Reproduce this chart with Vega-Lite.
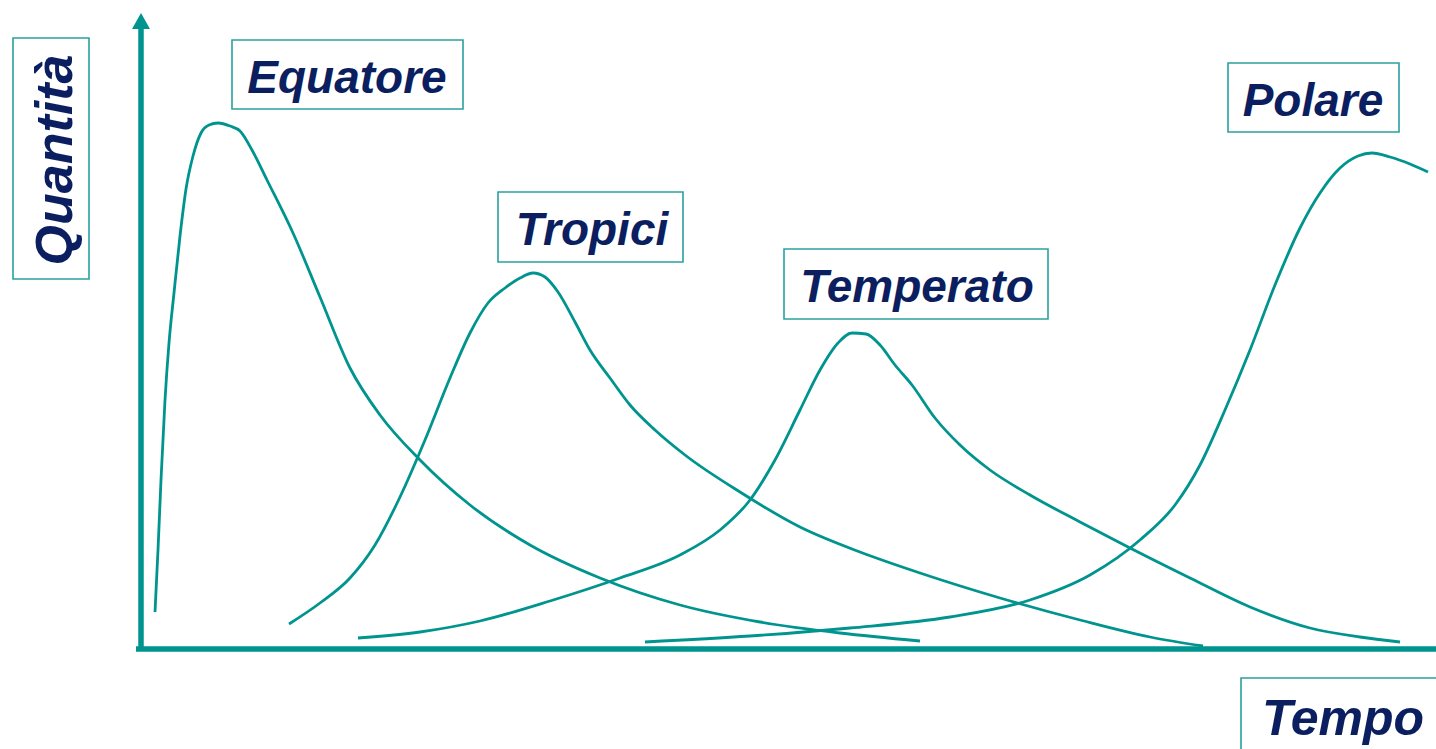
{
  "$schema": "https://vega.github.io/schema/vega-lite/v6.json",
  "width": 1436,
  "height": 749,
  "autosize": {"type": "fit", "contains": "padding"},
  "padding": 0,
  "background": "white",
  "config": {"view": {"stroke": null}},
  "encoding": {
    "x": {"field": "tempo", "type": "quantitative", "axis": null, "scale": {"domain": [-141, 1295], "nice": false, "zero": false}},
    "y": {"field": "quantita", "type": "quantitative", "axis": null, "scale": {"domain": [-100, 649], "nice": false, "zero": false}}
  },
  "layer": [
    {
      "data": {"values": [
        {"zona": "Equatore", "tempo": 14, "quantita": 37},
        {"zona": "Equatore", "tempo": 17, "quantita": 99},
        {"zona": "Equatore", "tempo": 20, "quantita": 169},
        {"zona": "Equatore", "tempo": 24, "quantita": 249},
        {"zona": "Equatore", "tempo": 28, "quantita": 306},
        {"zona": "Equatore", "tempo": 33, "quantita": 356},
        {"zona": "Equatore", "tempo": 39, "quantita": 413},
        {"zona": "Equatore", "tempo": 45, "quantita": 460},
        {"zona": "Equatore", "tempo": 52, "quantita": 493},
        {"zona": "Equatore", "tempo": 60, "quantita": 516},
        {"zona": "Equatore", "tempo": 68, "quantita": 524},
        {"zona": "Equatore", "tempo": 77, "quantita": 526},
        {"zona": "Equatore", "tempo": 89, "quantita": 523},
        {"zona": "Equatore", "tempo": 99, "quantita": 518},
        {"zona": "Equatore", "tempo": 111, "quantita": 499},
        {"zona": "Equatore", "tempo": 126, "quantita": 469},
        {"zona": "Equatore", "tempo": 152, "quantita": 416},
        {"zona": "Equatore", "tempo": 179, "quantita": 352},
        {"zona": "Equatore", "tempo": 209, "quantita": 281},
        {"zona": "Equatore", "tempo": 239, "quantita": 234},
        {"zona": "Equatore", "tempo": 279, "quantita": 189},
        {"zona": "Equatore", "tempo": 329, "quantita": 144},
        {"zona": "Equatore", "tempo": 389, "quantita": 104},
        {"zona": "Equatore", "tempo": 459, "quantita": 71},
        {"zona": "Equatore", "tempo": 539, "quantita": 44},
        {"zona": "Equatore", "tempo": 619, "quantita": 27},
        {"zona": "Equatore", "tempo": 699, "quantita": 16},
        {"zona": "Equatore", "tempo": 779, "quantita": 8},
        {"zona": "Tropici", "tempo": 148, "quantita": 25},
        {"zona": "Tropici", "tempo": 179, "quantita": 46},
        {"zona": "Tropici", "tempo": 209, "quantita": 71},
        {"zona": "Tropici", "tempo": 234, "quantita": 104},
        {"zona": "Tropici", "tempo": 259, "quantita": 152},
        {"zona": "Tropici", "tempo": 284, "quantita": 209},
        {"zona": "Tropici", "tempo": 309, "quantita": 271},
        {"zona": "Tropici", "tempo": 329, "quantita": 316},
        {"zona": "Tropici", "tempo": 347, "quantita": 346},
        {"zona": "Tropici", "tempo": 364, "quantita": 361},
        {"zona": "Tropici", "tempo": 379, "quantita": 371},
        {"zona": "Tropici", "tempo": 392, "quantita": 376},
        {"zona": "Tropici", "tempo": 404, "quantita": 372},
        {"zona": "Tropici", "tempo": 417, "quantita": 357},
        {"zona": "Tropici", "tempo": 434, "quantita": 327},
        {"zona": "Tropici", "tempo": 449, "quantita": 299},
        {"zona": "Tropici", "tempo": 469, "quantita": 271},
        {"zona": "Tropici", "tempo": 489, "quantita": 244},
        {"zona": "Tropici", "tempo": 514, "quantita": 219},
        {"zona": "Tropici", "tempo": 544, "quantita": 194},
        {"zona": "Tropici", "tempo": 599, "quantita": 157},
        {"zona": "Tropici", "tempo": 659, "quantita": 122},
        {"zona": "Tropici", "tempo": 719, "quantita": 97},
        {"zona": "Tropici", "tempo": 779, "quantita": 76},
        {"zona": "Tropici", "tempo": 859, "quantita": 51},
        {"zona": "Tropici", "tempo": 939, "quantita": 29},
        {"zona": "Tropici", "tempo": 1009, "quantita": 12},
        {"zona": "Tropici", "tempo": 1062, "quantita": 3},
        {"zona": "Temperato", "tempo": 217, "quantita": 11},
        {"zona": "Temperato", "tempo": 279, "quantita": 17},
        {"zona": "Temperato", "tempo": 339, "quantita": 28},
        {"zona": "Temperato", "tempo": 409, "quantita": 48},
        {"zona": "Temperato", "tempo": 479, "quantita": 71},
        {"zona": "Temperato", "tempo": 539, "quantita": 94},
        {"zona": "Temperato", "tempo": 579, "quantita": 119},
        {"zona": "Temperato", "tempo": 609, "quantita": 149},
        {"zona": "Temperato", "tempo": 634, "quantita": 189},
        {"zona": "Temperato", "tempo": 659, "quantita": 239},
        {"zona": "Temperato", "tempo": 679, "quantita": 279},
        {"zona": "Temperato", "tempo": 697, "quantita": 306},
        {"zona": "Temperato", "tempo": 711, "quantita": 316},
        {"zona": "Temperato", "tempo": 725, "quantita": 315},
        {"zona": "Temperato", "tempo": 739, "quantita": 304},
        {"zona": "Temperato", "tempo": 754, "quantita": 284},
        {"zona": "Temperato", "tempo": 771, "quantita": 264},
        {"zona": "Temperato", "tempo": 794, "quantita": 231},
        {"zona": "Temperato", "tempo": 819, "quantita": 204},
        {"zona": "Temperato", "tempo": 849, "quantita": 179},
        {"zona": "Temperato", "tempo": 889, "quantita": 154},
        {"zona": "Temperato", "tempo": 939, "quantita": 127},
        {"zona": "Temperato", "tempo": 989, "quantita": 101},
        {"zona": "Temperato", "tempo": 1049, "quantita": 71},
        {"zona": "Temperato", "tempo": 1109, "quantita": 42},
        {"zona": "Temperato", "tempo": 1169, "quantita": 21},
        {"zona": "Temperato", "tempo": 1219, "quantita": 12},
        {"zona": "Temperato", "tempo": 1259, "quantita": 7},
        {"zona": "Polare", "tempo": 504, "quantita": 7},
        {"zona": "Polare", "tempo": 609, "quantita": 13},
        {"zona": "Polare", "tempo": 709, "quantita": 21},
        {"zona": "Polare", "tempo": 809, "quantita": 32},
        {"zona": "Polare", "tempo": 889, "quantita": 49},
        {"zona": "Polare", "tempo": 949, "quantita": 74},
        {"zona": "Polare", "tempo": 999, "quantita": 109},
        {"zona": "Polare", "tempo": 1034, "quantita": 144},
        {"zona": "Polare", "tempo": 1059, "quantita": 184},
        {"zona": "Polare", "tempo": 1084, "quantita": 239},
        {"zona": "Polare", "tempo": 1109, "quantita": 299},
        {"zona": "Polare", "tempo": 1134, "quantita": 364},
        {"zona": "Polare", "tempo": 1159, "quantita": 421},
        {"zona": "Polare", "tempo": 1179, "quantita": 456},
        {"zona": "Polare", "tempo": 1199, "quantita": 481},
        {"zona": "Polare", "tempo": 1217, "quantita": 493},
        {"zona": "Polare", "tempo": 1231, "quantita": 496},
        {"zona": "Polare", "tempo": 1249, "quantita": 492},
        {"zona": "Polare", "tempo": 1269, "quantita": 485},
        {"zona": "Polare", "tempo": 1287, "quantita": 477}
      ]},
      "mark": {"type": "line", "interpolate": "monotone", "color": "#00948f", "strokeWidth": 2.8, "clip": true},
      "encoding": {"detail": {"field": "zona", "type": "nominal"}}
    },
    {
      "data": {"values": [
        {"asse": "Quantità", "tempo": 0, "quantita": -2, "tempo2": 0, "quantita2": 620},
        {"asse": "Tempo", "tempo": -5, "quantita": 0, "tempo2": 1310, "quantita2": 0}
      ]},
      "mark": {"type": "rule", "color": "#00948f", "strokeWidth": 5.5, "clip": true},
      "encoding": {
        "x2": {"field": "tempo2"},
        "y2": {"field": "quantita2"}
      }
    },
    {
      "data": {"values": [{"asse": "Quantità", "tempo": 0, "quantita": 628}]},
      "mark": {"type": "point", "shape": "M-1,0.9L1,0.9L0,-0.9Z", "size": 324, "filled": true, "color": "#00948f", "opacity": 1, "strokeWidth": 0},
      "encoding": {}
    },
    {
      "data": {"values": [{"asse": "Tempo", "tempo": 1305, "quantita": 0}]},
      "mark": {"type": "point", "shape": "M-0.9,-1L-0.9,1L0.9,0Z", "size": 400, "filled": true, "color": "#00948f", "opacity": 1, "strokeWidth": 0, "clip": true},
      "encoding": {}
    },
    {
      "data": {"values": [
        {"etichetta": "Quantità", "tempo": -128, "tempo2": -52, "quantita": 611, "quantita2": 370},
        {"etichetta": "Equatore", "tempo": 91, "tempo2": 322, "quantita": 609, "quantita2": 540},
        {"etichetta": "Tropici", "tempo": 357, "tempo2": 542, "quantita": 457, "quantita2": 387},
        {"etichetta": "Temperato", "tempo": 643, "tempo2": 907, "quantita": 400, "quantita2": 330},
        {"etichetta": "Polare", "tempo": 1087, "tempo2": 1258, "quantita": 586, "quantita2": 517},
        {"etichetta": "Tempo", "tempo": 1100, "tempo2": 1320, "quantita": -29, "quantita2": -125}
      ]},
      "mark": {"type": "rect", "fill": "white", "stroke": "#2aa19f", "strokeWidth": 1.6, "clip": true},
      "encoding": {
        "x2": {"field": "tempo2"},
        "y2": {"field": "quantita2"}
      }
    },
    {
      "data": {"values": [
        {"etichetta": "Equatore", "tempo": 206, "quantita": 556},
        {"etichetta": "Tropici", "tempo": 451, "quantita": 404},
        {"etichetta": "Temperato", "tempo": 776, "quantita": 347},
        {"etichetta": "Polare", "tempo": 1172, "quantita": 533}
      ]},
      "mark": {"type": "text", "font": "Liberation Sans", "fontSize": 46, "fontWeight": "bold", "fontStyle": "italic", "color": "#0a1e60", "align": "center", "baseline": "alphabetic"},
      "encoding": {"text": {"field": "etichetta"}}
    },
    {
      "data": {"values": [{"etichetta": "Tempo", "tempo": 1202, "quantita": -86}]},
      "mark": {"type": "text", "font": "Liberation Sans", "fontSize": 50, "fontWeight": "bold", "fontStyle": "italic", "color": "#0a1e60", "align": "center", "baseline": "alphabetic"},
      "encoding": {"text": {"field": "etichetta"}}
    },
    {
      "data": {"values": [{"etichetta": "Quantità", "tempo": -69, "quantita": 489}]},
      "mark": {"type": "text", "font": "Liberation Sans", "fontSize": 52, "fontWeight": "bold", "fontStyle": "italic", "color": "#0a1e60", "align": "center", "baseline": "alphabetic", "angle": 270},
      "encoding": {"text": {"field": "etichetta"}}
    }
  ]
}
